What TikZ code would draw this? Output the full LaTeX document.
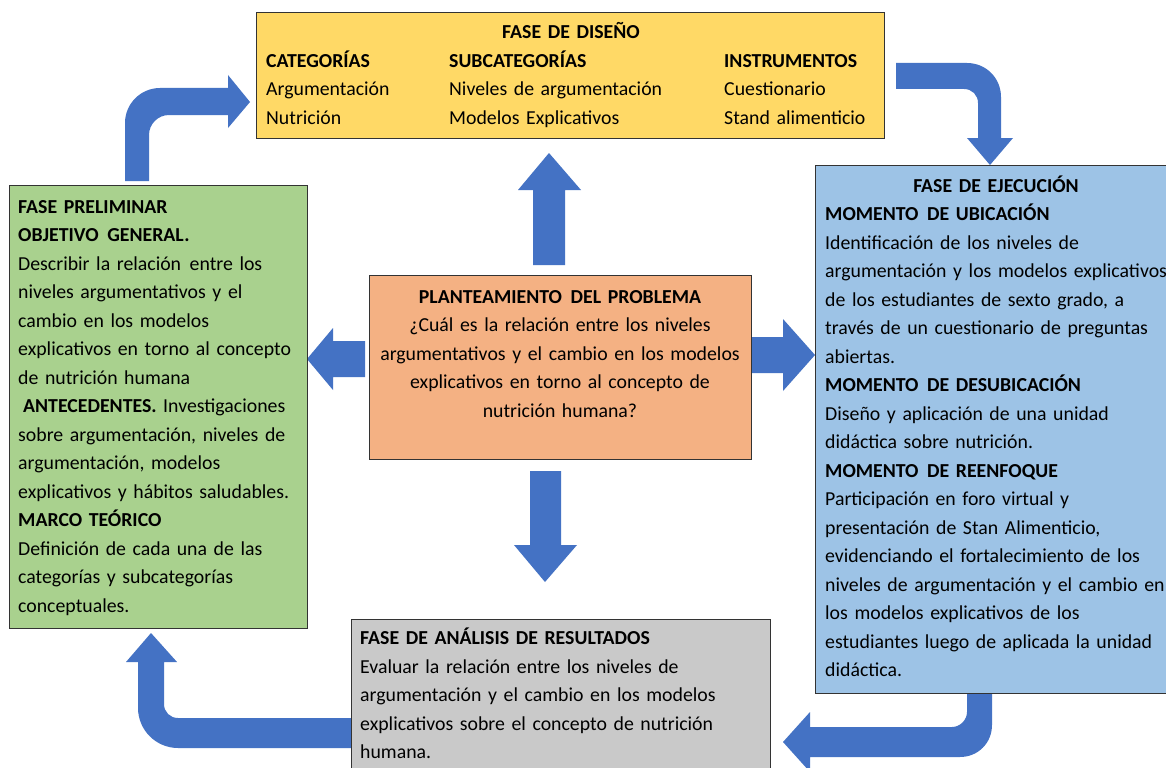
\documentclass[tikz,border=0pt]{standalone}
\usepackage{fontspec}
\setmainfont{Carlito}[WordSpace=0.8]
\definecolor{cyellow}{HTML}{FFD966}
\definecolor{cgreen}{HTML}{A9D18E}
\definecolor{cblue}{HTML}{9DC3E6}
\definecolor{corange}{HTML}{F4B183}
\definecolor{cgray}{HTML}{C9C9C9}
\definecolor{carrow}{HTML}{4472C4}
\definecolor{cborder}{HTML}{333333}
\newcommand{\dsp}{\ \hspace{2bp}}
\begin{document}
\begin{tikzpicture}[x=1bp,y=-1bp,
  box/.style={draw=cborder,line width=1.1bp,inner sep=0pt,anchor=north west},
  txt/.style={inner sep=0pt,anchor=base west,align=left,text width=420bp,
    font=\fontsize{19.8bp}{28.5bp}\selectfont},
  ctxt/.style={inner sep=0pt,anchor=base,align=center,text width=420bp,
    font=\fontsize{19.8bp}{28.5bp}\selectfont},
  blockarrow/.style={fill=carrow,draw=none}]
\useasboundingbox (0,0) rectangle (1166,768);
\fill[white] (0,0) rectangle (1166,768);

% bent and straight block arrows (drawn first, boxes cover their ends)
\fill[blockarrow] (125,181) -- (125,123) .. controls (125,103.7) and (140.7,88) .. (160,88)
  -- (228,88) -- (228,75) -- (250,102) -- (228,128) -- (228,115) -- (169,115)
  .. controls (158,115) and (149,124) .. (149,135) -- (149,181) -- cycle;
\fill[blockarrow] (896,63) -- (967,63) .. controls (986,63) and (1001,78) .. (1001,97)
  -- (1001,138) -- (1013,138) -- (990,165) -- (967,138) -- (978,138) -- (978,103)
  .. controls (978,95) and (972,89) .. (964,89) -- (896,89) -- cycle;
\fill[blockarrow] (967,690) -- (967,712) .. controls (967,720) and (960,727) .. (952,727)
  -- (810,727) -- (810,712) -- (783,742) -- (810,772) -- (810,757) -- (960,757)
  .. controls (978,757) and (992,743) .. (992,725) -- (992,690) -- cycle;
\fill[blockarrow] (354,718) -- (178,718) .. controls (170,718) and (164,712) .. (164,704)
  -- (164,662) -- (177,662) -- (151,633) -- (126,662) -- (138,662) -- (138,708)
  .. controls (138,730) and (156,748) .. (178,748) -- (354,748) -- cycle;
% straight arrows
\fill[blockarrow] (533,265) -- (533,190) -- (518,190) -- (549,153) -- (581,190) -- (565,190) -- (565,265) -- cycle;
\fill[blockarrow] (530,471) -- (530,545) -- (514,545) -- (545,582) -- (577,545) -- (561,545) -- (561,471) -- cycle;
\fill[blockarrow] (365,341) -- (333,341) -- (333,328) -- (307,359) -- (333,390) -- (333,377) -- (365,377) -- cycle;
\fill[blockarrow] (752,337) -- (783,337) -- (783,319) -- (815,355) -- (783,391) -- (783,373) -- (752,373) -- cycle;

% boxes
\node[box,fill=cyellow,minimum width=628bp,minimum height=126bp] (diseno) at (256,12) {};
\node[box,fill=cgreen,minimum width=298bp,minimum height=443bp] (prelim) at (9,185) {};
\node[box,fill=cblue,minimum width=362bp,minimum height=528bp] (ejec) at (815,165) {};
\node[box,fill=corange,minimum width=382bp,minimum height=184bp] (plant) at (369,275) {};
\node[box,fill=cgray,minimum width=419bp,minimum height=170bp] (anal) at (351,619) {};

% yellow box text
\node[ctxt] (disenoT) at (571,39) {\textbf{FASE DE DISEÑO}};
\node[txt] (cat) at (266,67.5) {\textbf{CATEGORÍAS}\\Argumentación\\Nutrición};
\node[txt] (subcat) at (449,67.5) {\textbf{SUBCATEGORÍAS}\\Niveles de argumentación\\Modelos Explicativos};
\node[txt] (instr) at (724,67.5) {\textbf{INSTRUMENTOS}\\Cuestionario\\Stand alimenticio};

% green box text
\node[txt] (prelimT) at (18,213) {\textbf{FASE PRELIMINAR}\\
\textbf{OBJETIVO\dsp GENERAL.}\\
Describir la relación\dsp entre los\\
niveles argumentativos y el\\
cambio en los modelos\\
explicativos en torno al concepto\\
de nutrición humana\\
\hspace*{5bp}\textbf{ANTECEDENTES.} Investigaciones\\
sobre argumentación, niveles de\\
argumentación, modelos\\
explicativos y hábitos saludables.\\
\textbf{MARCO TEÓRICO}\\
Definición de cada una de las\\
categorías y subcategorías\\
conceptuales.};

% blue box text
\node[ctxt] (ejecH) at (996,192) {\textbf{FASE DE EJECUCIÓN}};
\node[txt] (ejecT) at (825,220.5) {\textbf{MOMENTO\dsp DE UBICACIÓN}\\
Identificación de los niveles de\\
argumentación y los modelos explicativos\\
de los estudiantes de sexto grado, a\\
través de un cuestionario de preguntas\\
abiertas.\\
\textbf{MOMENTO\dsp DE DESUBICACIÓN}\\
Diseño y aplicación de una unidad\\
didáctica sobre nutrición.\\
\textbf{MOMENTO\dsp DE REENFOQUE}\\
Participación en foro virtual y\\
presentación de Stan Alimenticio,\\
evidenciando el fortalecimiento de los\\
niveles de argumentación y el cambio en\\
los modelos explicativos de los\\
estudiantes luego de aplicada la unidad\\
didáctica.};

% orange box text
\node[ctxt] (plantT) at (560,303) {\textbf{PLANTEAMIENTO\dsp DEL PROBLEMA}\\
¿Cuál es la relación entre los niveles\\
argumentativos y el cambio en los modelos\\
explicativos en torno al concepto de\\
nutrición humana?};

% gray box text
\node[txt] (analT) at (360,644.5) {\textbf{FASE DE ANÁLISIS DE RESULTADOS}\\
Evaluar la relación entre los niveles de\\
argumentación y el cambio en los modelos\\
explicativos sobre el concepto de nutrición\\
humana.};
\end{tikzpicture}
\end{document}
